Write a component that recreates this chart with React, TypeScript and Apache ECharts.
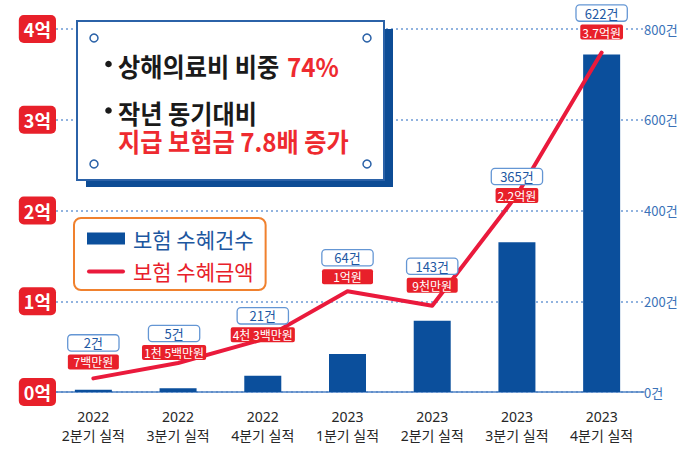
import React, { useEffect, useRef } from "react";
import * as echarts from "echarts";

const FONT = '"Noto Sans CJK KR", "Noto Sans", sans-serif';
const XFONT = '"Noto Sans", "Noto Sans CJK KR", sans-serif';

const years = ["2022", "2022", "2022", "2023", "2023", "2023", "2023"];
const quarters = ["2분기 실적", "3분기 실적", "4분기 실적", "1분기 실적", "2분기 실적", "3분기 실적", "4분기 실적"];
// bar heights as drawn in the picture (right axis, 건)
const countBars = [5, 8, 36, 84, 157, 330, 744];
// line points as drawn in the picture (left axis, 억)
const amountLine = [0.15, 0.32, 0.58, 1.11, 0.95, 2.17, 3.74];
const countLabels = ["2건", "5건", "21건", "64건", "143건", "365건", "622건"];
const amountLabels = ["7백만원", "1천 5백만원", "4천 3백만원", "1억원", "9천만원", "2.2억원", "3.7억원"];
const leftTickUnit = "억";
const rightTickUnit = "건";
const legendNames = ["보험 수혜건수", "보험 수혜금액"];
const noteLine1 = "상해의료비 비중";
const noteLine1Red = "74%";
const noteLine2 = "작년 동기대비";
const noteLine3 = "지급 보험금 7.8배 증가";

// layout only
const labelOffsets = [[0, -7], [-4, -1], [0, 5], [0, -5], [0, -11], [0, 10], [0, -11]];

export default function App() {
  const ref = useRef<HTMLDivElement>(null);
  useEffect(() => {
    if (!ref.current) return;
    const chart = echarts.init(ref.current, undefined, { renderer: "svg" });
    const RED = "#e8202a";
    const BLUE = "#0b4f9c";
    const SX = 0.93;
    const option: any = {
      animation: false,
      backgroundColor: "#ffffff",
      textStyle: { fontFamily: FONT },
      grid: { left: 51, right: 56, top: 29, bottom: 62 },
      legend: {
        orient: "vertical",
        left: 74,
        top: 218,
        backgroundColor: "#ffffff",
        borderColor: "#f0812e",
        borderWidth: 2,
        borderRadius: 7,
        padding: [10, 12, 8, 13],
        itemGap: 12,
        itemWidth: 38,
        itemHeight: 12,
        textStyle: { fontSize: 21, fontFamily: FONT, padding: [0, 0, 0, 3] },
        data: [
          { name: legendNames[0], icon: "rect", textStyle: { color: "#1d57a0" } },
          { name: legendNames[1], icon: "path://M2,0L36,0A2,2 0 0 1 36,4L2,4A2,2 0 0 1 2,0Z", textStyle: { color: RED } },
        ],
      },
      xAxis: {
        type: "category",
        data: years.map((y, i) => y + "\n" + quarters[i]),
        axisLine: { show: true, lineStyle: { color: "#4f82c4", width: 1.5 } },
        axisTick: { show: false },
        axisLabel: { interval: 0, fontSize: 14, lineHeight: 19, color: "#262626", margin: 15, fontFamily: XFONT },
      },
      yAxis: [
        {
          type: "value",
          min: 0,
          max: 4,
          interval: 1,
          axisLine: { show: false },
          axisTick: { show: false },
          splitLine: { show: true, lineStyle: { color: "#6d9bd5", type: [2, 3], width: 1.5 } },
          axisLabel: {
            margin: -5,
            formatter: (v: number) => `{b|${v}${leftTickUnit}}`,
            rich: {
              b: {
                backgroundColor: RED,
                color: "#ffffff",
                fontSize: 18,
                fontWeight: "bold",
                fontFamily: FONT,
                borderRadius: 5,
                padding: [5, 5, 5, 5],
              },
            },
          },
        },
        {
          type: "value",
          min: 0,
          max: 800,
          interval: 200,
          position: "right",
          axisLine: { show: false },
          axisTick: { show: false },
          splitLine: { show: false },
          axisLabel: {
            margin: 0,
            color: "#3a72b8",
            fontSize: 13,
            fontFamily: FONT,
            formatter: (v: number) => `${v}${rightTickUnit}`,
          },
        },
      ],
      series: [
        {
          name: legendNames[0],
          type: "bar",
          yAxisIndex: 1,
          barWidth: 37,
          itemStyle: { color: BLUE },
          data: countBars,
        },
        {
          name: legendNames[1],
          type: "line",
          yAxisIndex: 0,
          symbol: "circle",
          symbolSize: 0,
          color: "#ea1a3c",
          lineStyle: { width: 4, color: "#ea1a3c", cap: "round", join: "round" },
          label: {
            show: true,
            position: "top",
            distance: 0,
            formatter: (p: any) => {
              const i = p.dataIndex;
              const a = amountLabels[i];
              const st = a.length > 4 ? "w" : "a";
              return `{c|${countLabels[i]}}\n{${st}|${a}}`;
            },
            rich: {
              c: {
                width: 50,
                height: 15,
                lineHeight: 19,
                align: "center",
                backgroundColor: "#ffffff",
                borderColor: "#6496d4",
                borderWidth: 1.3,
                borderRadius: 3,
                color: "#1d58a3",
                fontSize: 13,
                fontFamily: FONT,
              },
              a: {
                width: 51,
                height: 15,
                lineHeight: 19,
                align: "center",
                backgroundColor: RED,
                borderRadius: 2,
                color: "#ffffff",
                fontSize: 12,
                fontFamily: FONT,
              },
              w: {
                height: 15,
                lineHeight: 19,
                align: "center",
                padding: [0, 2],
                backgroundColor: RED,
                borderRadius: 2,
                color: "#ffffff",
                fontSize: 12,
                fontFamily: FONT,
              },
            },
          },
          data: amountLine.map((v, i) => ({ value: v, label: { offset: labelOffsets[i] } })),
          z: 3,
        },
      ],
      graphic: [
        { type: "rect", z: 50, shape: { x: 86, y: 29, width: 307, height: 158 }, style: { fill: "#0d4c95" } },
        { type: "rect", z: 51, shape: { x: 77, y: 21, width: 307, height: 159 }, style: { fill: "#ffffff", stroke: "#2b62a8", lineWidth: 2 } },
        ...[[94, 38], [367, 38], [94, 164], [367, 164]].map(([cx, cy]) => ({
          type: "circle",
          z: 52,
          shape: { cx, cy, r: 4 },
          style: { fill: "#ffffff", stroke: "#2b62a8", lineWidth: 1.5 },
        })),
        { type: "circle", z: 52, shape: { cx: 108.5, cy: 64, r: 3.3 }, style: { fill: "#1a1a1a" } },
        { type: "circle", z: 52, shape: { cx: 108.5, cy: 110.5, r: 3.3 }, style: { fill: "#1a1a1a" } },
        {
          type: "text", z: 52, x: 118, y: 66, scaleX: SX,
          style: { text: noteLine1, fill: "#1a1a1a", fontSize: 26, fontWeight: "bold", fontFamily: FONT, verticalAlign: "middle" },
        },
        {
          type: "text", z: 52, x: 287, y: 66, scaleX: SX,
          style: { text: noteLine1Red, fill: "#ee2a2f", fontSize: 26, fontWeight: "bold", fontFamily: FONT, verticalAlign: "middle" },
        },
        {
          type: "text", z: 52, x: 118, y: 112.5, scaleX: SX,
          style: { text: noteLine2, fill: "#1a1a1a", fontSize: 26, fontWeight: "bold", fontFamily: FONT, verticalAlign: "middle" },
        },
        {
          type: "text", z: 52, x: 118, y: 140.5, scaleX: SX,
          style: { text: noteLine3, fill: "#ee2a2f", fontSize: 26, fontWeight: "bold", fontFamily: FONT, verticalAlign: "middle" },
        },
      ],
    };
    chart.setOption(option);
    return () => chart.dispose();
  }, []);
  return (
    <div
      ref={ref}
      style={{ position: "fixed", left: 0, top: 0, width: 700, height: 454, background: "#fff" }}
    />
  );
}
